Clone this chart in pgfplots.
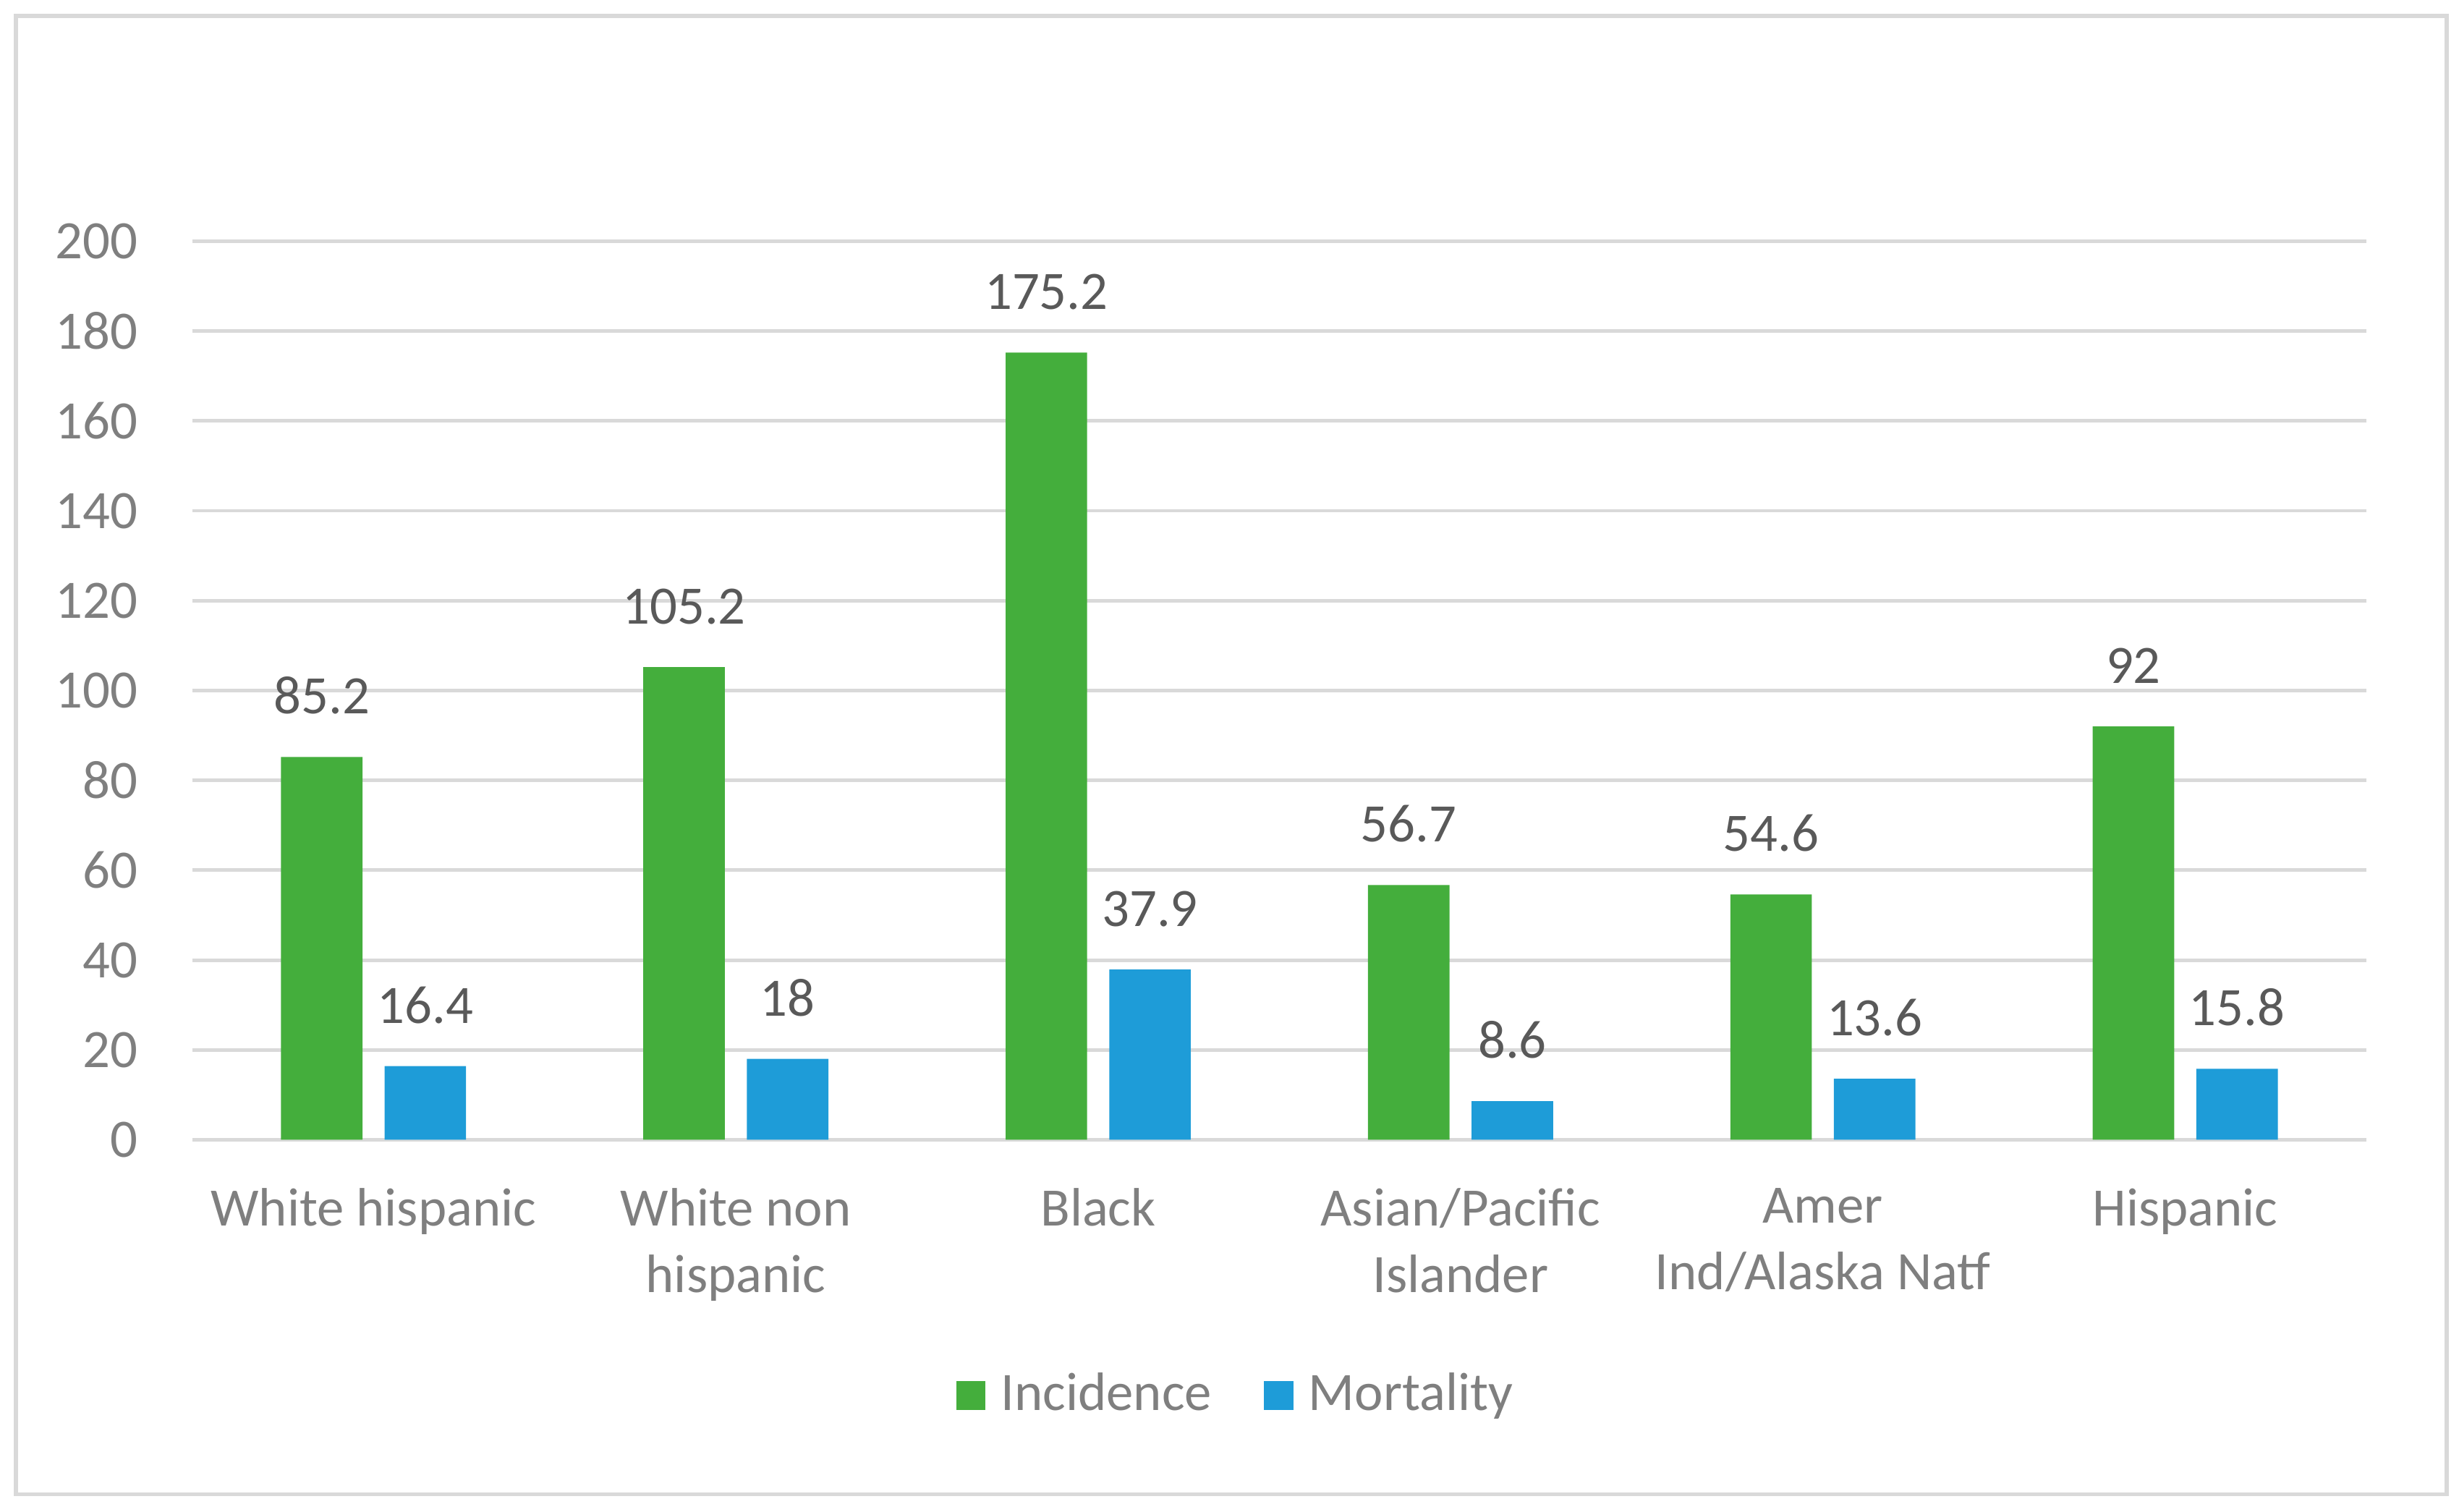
\documentclass[border=0pt]{standalone}
\usepackage{fontspec}
\setmainfont{Carlito}
\usepackage{pgfplots}
\pgfplotsset{compat=1.18}

\definecolor{incgreen}{HTML}{44AE3C}
\definecolor{mortblue}{HTML}{1E9CD8}
\definecolor{gridgray}{HTML}{D9D9D9}
\definecolor{labgray}{HTML}{7F7F7F}
\definecolor{valgray}{HTML}{595959}

\begin{document}
\begin{tikzpicture}
% page size and outer chart frame (axis box south west at origin)
\path[use as bounding box] (-1.250,-2.387) rectangle (14.732,7.438);
\draw[gridgray, line width=0.8pt] (-1.147,-2.274) rectangle (14.65,7.335);

\begin{axis}[
  name=ax, at={(0,0.03cm)}, anchor=south west,
  scale only axis,
  width=14.13cm, height=5.84cm,
  ybar, bar width=0.225,
  xmin=-0.5, xmax=5.5,
  ymin=0, ymax=200,
  ytick={0,20,...,200},
  xtick={0,1,2,3,4,5},
  xticklabels={White hispanic, White non\\hispanic, Black, Asian/Pacific\\Islander, Amer\\Ind/Alaska Natf, Hispanic},
  ymajorgrids,
  grid style={gridgray, line width=0.65pt},
  axis line style={draw=none},
  tick style={draw=none},
  /pgf/number format/assume math mode=true,
  ticklabel style={font=\fontsize{10}{12.3}\selectfont, text=labgray},
  yticklabel style={anchor=east, inner sep=0pt, xshift=-0.35cm},
  xticklabel style={anchor=north, align=center, inner sep=0pt, yshift=-0.16cm},
  nodes near coords,
  every node near coord/.append style={font=\fontsize{10}{12}\selectfont, text=valgray, anchor=base, inner sep=0pt, yshift=0.28cm},
  legend style={at={(0.483,-0.2845)}, anchor=center, draw=none, fill=none,
    legend columns=2, font=\fontsize{10}{12}\selectfont, text=labgray,
    nodes={inner sep=0.1cm},
    /tikz/every even column/.append style={column sep=0.24cm}},
  legend image code/.code={\fill[#1] (0cm,-0.095cm) rectangle (0.19cm,0.095cm);},
]
\addplot[bar shift=-0.143, fill=incgreen, draw=none]
coordinates {
  (0, 85.2)
  (1, 105.2)
  (2, 175.2)
  (3, 56.7)
  (4, 54.6)
  (5, 92)
};
\addplot[bar shift=0.143, fill=mortblue, draw=none]
coordinates {
  (0, 16.4)
  (1, 18)
  (2, 37.9)
  (3, 8.6)
  (4, 13.6)
  (5, 15.8)
};
\legend{Incidence, Mortality}
\end{axis}
\end{tikzpicture}
\end{document}
